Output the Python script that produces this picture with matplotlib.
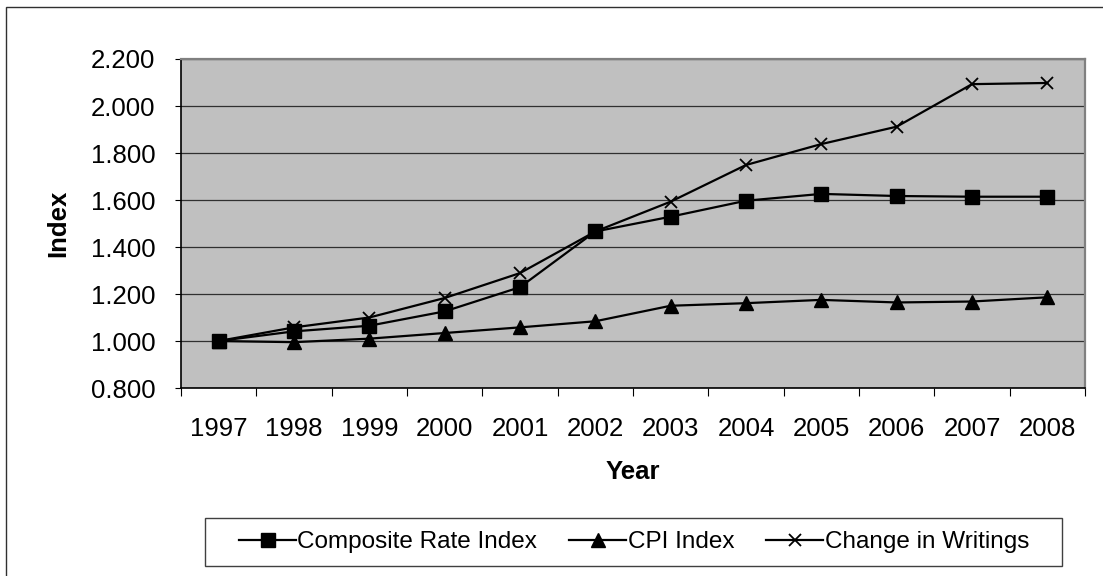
import matplotlib
matplotlib.use("Agg")
from matplotlib import pyplot as plt
from matplotlib.patches import Rectangle
import numpy as np

plt.rcParams['font.family'] = ['Liberation Sans', 'DejaVu Sans']

# Data
years = ['1997', '1998', '1999', '2000', '2001', '2002',
         '2003', '2004', '2005', '2006', '2007', '2008']
composite_rate = [1.000, 1.041, 1.065, 1.126, 1.229, 1.466,
                  1.529, 1.597, 1.626, 1.617, 1.614, 1.614]
cpi_index = [1.000, 0.995, 1.010, 1.034, 1.058, 1.084,
             1.150, 1.161, 1.175, 1.164, 1.168, 1.186]
writings = [1.000, 1.058, 1.100, 1.183, 1.289, 1.466,
            1.593, 1.749, 1.838, 1.912, 2.093, 2.098]
y_ticks = [0.8, 1.0, 1.2, 1.4, 1.6, 1.8, 2.0, 2.2]

W, H = 1103, 576
fig = plt.figure(figsize=(W / 100, H / 100), dpi=100)
ax = fig.add_axes([181 / W, 1 - 388 / H, (1085 - 181) / W, (388 - 59) / H])
ax.set_facecolor('#c0c0c0')

x = np.arange(len(years))
ax.plot(x, composite_rate, color='black', lw=1.6, marker='s', ms=9.5,
        mfc='black', mec='black', label='Composite Rate Index', zorder=3)
ax.plot(x, cpi_index, color='black', lw=1.6, marker='^', ms=10,
        mfc='black', mec='black', label='CPI Index', zorder=3)
ax.plot(x, writings, color='black', lw=1.6, marker='x', ms=9, mew=1.3,
        label='Change in Writings', zorder=3)

# axes
ax.set_ylim(0.8, 2.2)
ax.set_yticks(y_ticks)
ax.set_yticklabels(['%.3f' % v for v in y_ticks])
ax.yaxis.grid(True, color='#303030', lw=0.9)
ax.set_axisbelow(True)

ax.set_xlim(-0.5, len(years) - 0.5)
ax.set_xticks(np.arange(-0.5, len(years)))
ax.set_xticklabels([])
ax.set_xticks(x, minor=True)
ax.set_xticklabels(years, minor=True)
ax.tick_params(axis='x', which='major', direction='out', length=5.5, width=0.8)
ax.tick_params(axis='x', which='minor', length=0, pad=21, labelsize=18.5)
ax.tick_params(axis='y', direction='out', length=4.5, width=0.8, pad=14, labelsize=18.5)

for side in ['top', 'right']:
    ax.spines[side].set_color('#808080')
    ax.spines[side].set_linewidth(1.6)
ax.spines['left'].set_color('black')
ax.spines['bottom'].set_color('black')
ax.spines['left'].set_linewidth(1.2)
ax.spines['bottom'].set_linewidth(1.2)

ax.set_ylabel('Index', fontsize=18.5, fontweight='bold')
ax.yaxis.set_label_coords(-0.1228, 0.5)
ax.set_xlabel('Year', fontsize=18.5, fontweight='bold')
ax.xaxis.set_label_coords(0.5, -0.218)

# legend without its own frame, the box is drawn separately
leg = ax.legend(loc='center left', bbox_to_anchor=(239 / W, 1 - 542 / H),
                bbox_transform=fig.transFigure, ncol=3, fontsize=17.5,
                frameon=False, handlelength=2.35, handletextpad=0.05,
                columnspacing=1.32, borderpad=0, borderaxespad=0)
fig.add_artist(Rectangle((205 / W, 1 - 566 / H), (1062 - 205) / W, 48 / H,
                         transform=fig.transFigure, fill=False,
                         edgecolor='#404040', lw=1.0))

# outer chart border (only left and top edges fall inside the picture)
fig.add_artist(Rectangle((6 / W, -20 / H), 1200 / W, (569 + 20) / H,
                         transform=fig.transFigure, fill=False,
                         edgecolor='#303030', lw=1.0))

plt.savefig('out.png', dpi=100)
